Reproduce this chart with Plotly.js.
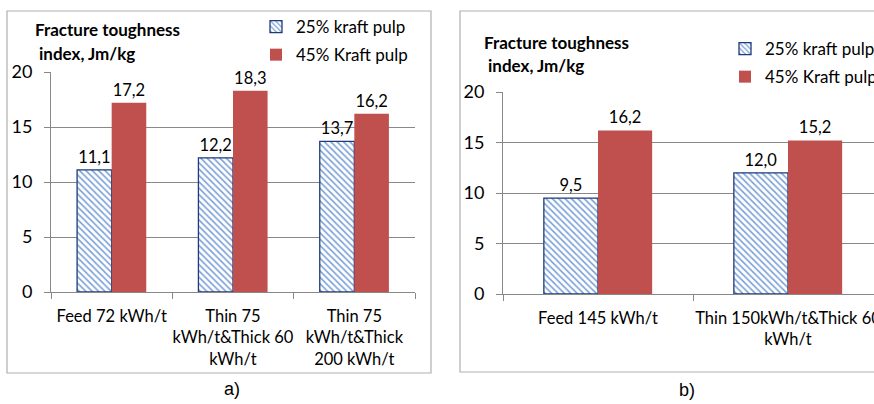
<!DOCTYPE html>
<html>
<head>
<meta charset="utf-8">
<script src="https://cdn.plot.ly/plotly-3.0.1.min.js"></script>
<style>html,body{margin:0;padding:0;background:#fff;}#chart{width:874px;height:404px;}</style>
</head>
<body>
<div id="chart"></div>
<script>
// Panel a)
const categoriesA = ["Feed 72 kWh/t", "Thin 75<br>kWh/t&amp;Thick 60<br>kWh/t", "Thin 75<br>kWh/t&amp;Thick<br>200 kWh/t"];
const kraft25A = [11.1, 12.2, 13.7];
const kraft45A = [17.2, 18.3, 16.2];
// Panel b)
const categoriesB = ["Feed 145 kWh/t", "Thin 150kWh/t&amp;Thick 60<br>kWh/t"];
const kraft25B = [9.5, 12.0];
const kraft45B = [16.2, 15.2];
const seriesNames = ["25% kraft pulp", "45% Kraft pulp"];
const yTicks = [0, 5, 10, 15, 20];

const W = 874, H = 404;
const px = x => x / W;
const py = y => (H - y) / H;
const FONT = "Lato, 'Open Sans', sans-serif";
const fmt = v => v.toFixed(1).replace('.', ',');

function hatched(x, y, name, xa, ya, lg) {
  return {type: 'bar', x: x, y: y, name: name, xaxis: xa, yaxis: ya, legend: lg, legendgroup: lg + 'h',
    text: y.map(fmt), textposition: 'outside', cliponaxis: false,
    textfont: {family: FONT, size: 16.5, color: '#000'},
    marker: {color: '#ffffff', line: {color: '#1f3b7a', width: 1.3},
      pattern: {shape: '\\', fgcolor: '#7aa0d6', bgcolor: '#ffffff', size: 4.5, solidity: 0.35}},
    hoverinfo: 'skip'};
}
function solid(x, y, name, xa, ya, lg) {
  return {type: 'bar', x: x, y: y, name: name, xaxis: xa, yaxis: ya, legend: lg, legendgroup: lg + 's',
    text: y.map(fmt), textposition: 'outside', cliponaxis: false,
    textfont: {family: FONT, size: 16.5, color: '#000'},
    marker: {color: '#c0504d', line: {color: '#c0504d', width: 0}},
    hoverinfo: 'skip'};
}

const data = [
  hatched(categoriesA, kraft25A, seriesNames[0], 'x', 'y', 'legend'),
  solid(categoriesA, kraft45A, seriesNames[1], 'x', 'y', 'legend'),
  hatched(categoriesB, kraft25B, seriesNames[0], 'x2', 'y2', 'legend2'),
  solid(categoriesB, kraft45B, seriesNames[1], 'x2', 'y2', 'legend2')
];

const xCommon = {type: 'category', showline: true, linecolor: '#888', linewidth: 1, tickangle: 0, automargin: false,
  ticks: 'outside', tickson: 'boundaries', ticklen: 6, tickcolor: '#888', ticklabelstandoff: 9,
  tickfont: {family: FONT, size: 16.5, color: '#000'}, showgrid: false, zeroline: false, fixedrange: true};
const yCommon = {range: [0, 20], tickvals: yTicks, showline: true, linecolor: '#888', linewidth: 1, automargin: false,
  ticks: 'outside', ticklen: 6, tickcolor: '#888', gridcolor: '#888', gridwidth: 1, zeroline: false,
  ticklabelstandoff: 8, tickfont: {family: FONT, size: 18, color: '#000'}, fixedrange: true};

const legendCommon = {orientation: 'v', xanchor: 'left', yanchor: 'top', bgcolor: 'rgba(0,0,0,0)',
  font: {family: FONT, size: 17, color: '#000'}, traceorder: 'grouped', tracegroupgap: 3, itemwidth: 30};

const TF = {family: FONT, size: 17, color: '#000'};
const layout = {
  width: W, height: H, margin: {l: 0, r: 0, t: 0, b: 0, autoexpand: false},
  paper_bgcolor: '#fff', plot_bgcolor: 'rgba(0,0,0,0)',
  barmode: 'group', bargap: 0.43, bargroupgap: 0,
  xaxis: Object.assign({}, xCommon, {domain: [px(51), px(415)], anchor: 'y'}),
  yaxis: Object.assign({}, yCommon, {domain: [py(292), py(72)], anchor: 'x'}),
  xaxis2: Object.assign({}, xCommon, {domain: [px(503), 1], anchor: 'y2', range: [-0.5, -0.5 + (874 - 503) / 190]}),
  yaxis2: Object.assign({}, yCommon, {domain: [py(294), py(92)], anchor: 'x2'}),
  legend: Object.assign({}, legendCommon, {x: px(256), y: py(9)}),
  legend2: Object.assign({}, legendCommon, {x: px(725), y: py(31)}),
  shapes: [
    {type: 'rect', xref: 'paper', yref: 'paper', x0: px(7), x1: px(431), y0: py(373), y1: py(11), line: {color: '#b0b0b0', width: 1.2}},
    {type: 'rect', xref: 'paper', yref: 'paper', x0: px(460), x1: 1.02, y0: py(372), y1: py(11), line: {color: '#b0b0b0', width: 1.2}}
  ],
  annotations: [
    {xref: 'paper', yref: 'paper', x: px(33), y: py(30), xanchor: 'left', yanchor: 'middle', showarrow: false,
      text: '<b>Fracture toughness</b>', font: TF},
    {xref: 'paper', yref: 'paper', x: px(37), y: py(53), xanchor: 'left', yanchor: 'middle', showarrow: false,
      text: '<b>index, Jm/kg</b>', font: TF},
    {xref: 'paper', yref: 'paper', x: px(482), y: py(43), xanchor: 'left', yanchor: 'middle', showarrow: false,
      text: '<b>Fracture toughness</b>', font: TF},
    {xref: 'paper', yref: 'paper', x: px(486), y: py(65), xanchor: 'left', yanchor: 'middle', showarrow: false,
      text: '<b>index, Jm/kg</b>', font: TF},
    {xref: 'paper', yref: 'paper', x: px(232), y: py(389), xanchor: 'center', yanchor: 'middle', showarrow: false,
      text: 'a)', font: {family: "'Liberation Sans', Arial, sans-serif", size: 18, color: '#000'}},
    {xref: 'paper', yref: 'paper', x: px(687), y: py(390), xanchor: 'center', yanchor: 'middle', showarrow: false,
      text: 'b)', font: {family: "'Liberation Sans', Arial, sans-serif", size: 18, color: '#000'}}
  ]
};

Plotly.newPlot('chart', data, layout, {staticPlot: true, displayModeBar: false});
</script>
</body>
</html>
